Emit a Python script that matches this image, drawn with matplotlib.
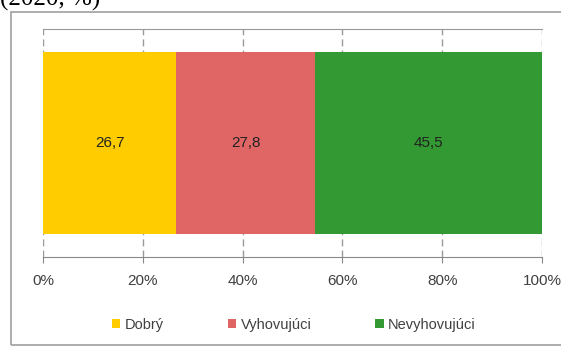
import matplotlib.pyplot as plt
from matplotlib.patches import Rectangle

categories = ["Dobrý", "Vyhovujúci", "Nevyhovujúci"]
values     = [26.7, 27.8, 45.5]
colors     = ["#FFCC00", "#E06666", "#339933"]
ticks      = [0, 20, 40, 60, 80, 100]
tick_labels = ["0%", "20%", "40%", "60%", "80%", "100%"]

W, H = 561, 347
fig = plt.figure(figsize=(W / 100, H / 100), dpi=100)
plt.rcParams["font.family"] = ["Liberation Sans", "DejaVu Sans"]

# outer chart frame (cut at right edge)
fig.patches.append(Rectangle((11 / W, 1 - 345 / H), 560 / W, 333 / H,
                             transform=fig.transFigure, fill=False,
                             edgecolor="#a0a0a0", linewidth=1.2))

# cropped title above the frame
fig.text(0, 1 - 6 / H, "(2020, %)", family="Liberation Serif", fontsize=18,
         va="baseline", ha="left", color="black")

ax = fig.add_axes([43 / W, 1 - 257 / H, (542 - 43) / W, (257 - 29) / H])

left = 0
for cat, val, col in zip(categories, values, colors):
    ax.barh(0, val, left=left, height=0.8, color=col, label=cat, zorder=2)
    ax.text(left + val / 2, 0, f"{val:.1f}".replace(".", ","),
            ha="center", va="center", fontsize=11, color="#222222", zorder=3)
    left += val

ax.set_xlim(0, 100)
ax.set_ylim(-0.5, 0.5)
ax.set_xticks(ticks)
ax.set_xticklabels(tick_labels, fontsize=11, color="#404040")
ax.set_yticks([])
ax.xaxis.grid(True, linestyle=(0, (5, 3)), color="#999999", linewidth=1, zorder=0)
for s in ["left", "right"]:
    ax.spines[s].set_visible(False)
ax.spines["top"].set_color("#999999")
ax.spines["bottom"].set_color("#888888")
ax.tick_params(axis="x", length=4, color="#888888", pad=8)

ax.legend(loc="center", bbox_to_anchor=(294 / W, 1 - 325 / H), bbox_transform=fig.transFigure,
          ncol=3, frameon=False, fontsize=10.5, handlelength=0.55, handleheight=0.55,
          handletextpad=0.3, columnspacing=4.4, labelcolor="#404040")

fig.savefig("out.png", dpi=100)
